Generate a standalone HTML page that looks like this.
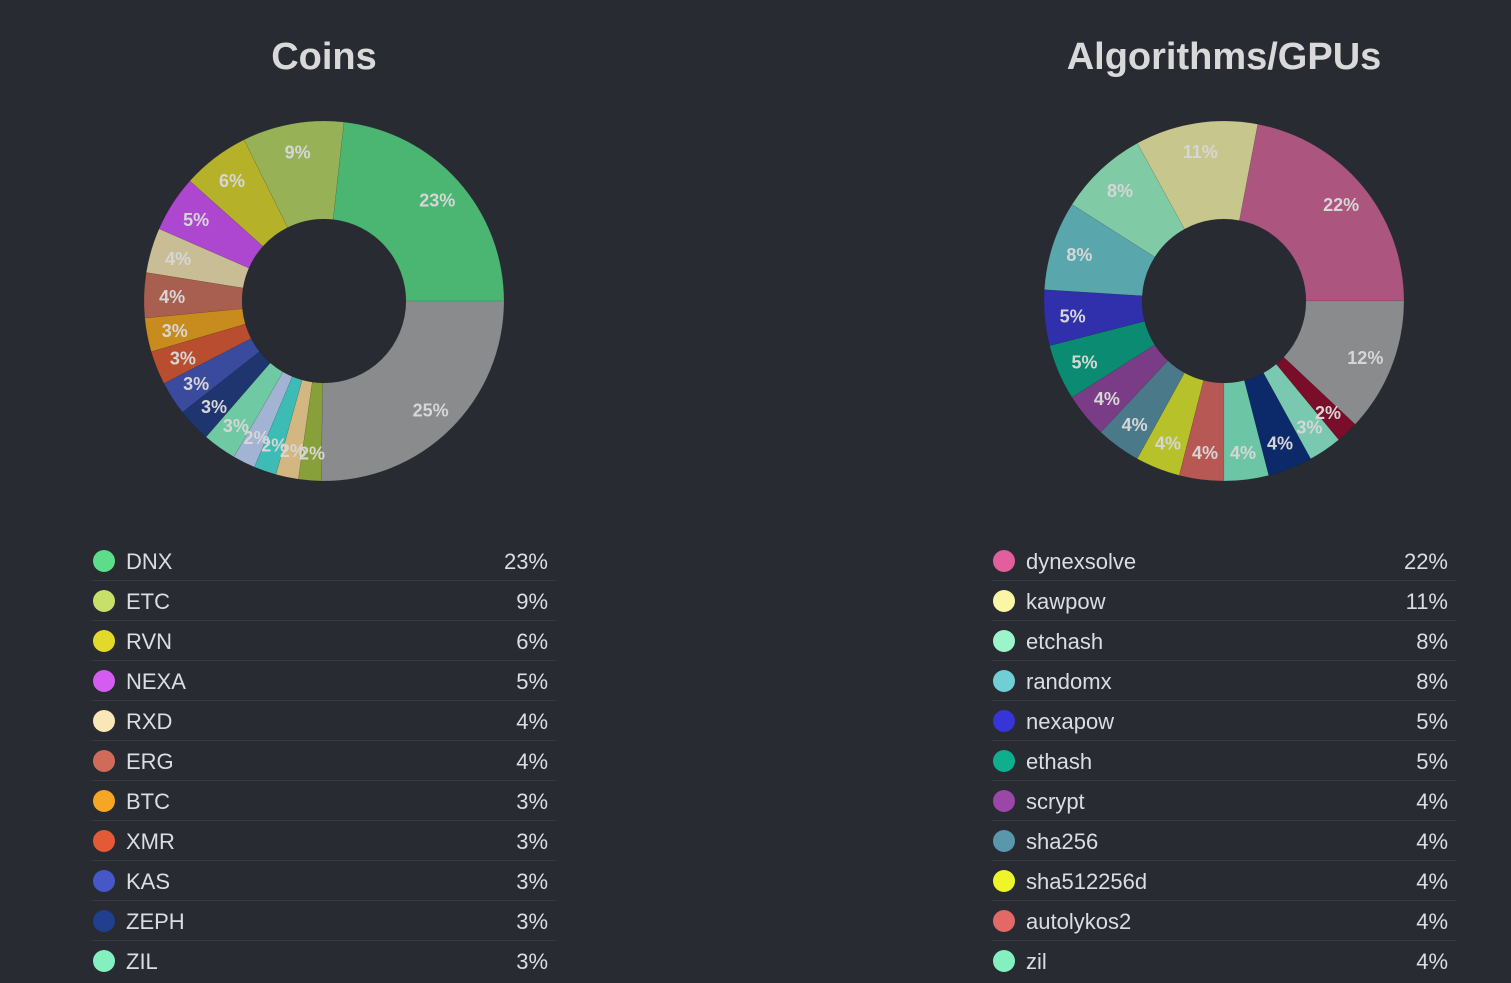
<!DOCTYPE html>
<html><head><meta charset="utf-8">
<style>
html,body{margin:0;padding:0;background:#292b33;width:1511px;height:983px;overflow:hidden;font-family:"Liberation Sans",sans-serif;}
svg{position:absolute;left:0;top:0}
</style></head>
<body>
<svg id="s" width="1511" height="983" xmlns="http://www.w3.org/2000/svg">
<rect width="1511" height="983" fill="#292b33"/>
<text x="324" y="69" text-anchor="middle" font-size="38" font-weight="bold" fill="#d9d9d9" font-family="Liberation Sans, sans-serif">Coins</text>
<text x="1224" y="69" text-anchor="middle" font-size="38" font-weight="bold" fill="#d9d9d9" font-family="Liberation Sans, sans-serif">Algorithms/GPUs</text>
<g id="g"></g>
</svg>
<script>
var NS="http://www.w3.org/2000/svg",g=document.getElementById('g');
function el(t,a,txt){var e=document.createElementNS(NS,t);for(var k in a)e.setAttribute(k,a[k]);if(txt!=null)e.textContent=txt;g.appendChild(e);return e;}
function donut(cx,cy,data){
  var tot=0;data.forEach(d=>tot+=d[0]);
  var a=0,R=180,r=82,labels=[];
  data.forEach(d=>{
    var a0=a,a1=a+d[0]/tot*2*Math.PI;a=a1;
    var p=(ang,rad)=>[cx+rad*Math.cos(ang),cy-rad*Math.sin(ang)];
    var o0=p(a0,R),o1=p(a1,R),i0=p(a0,r),i1=p(a1,r),lg=(a1-a0)>Math.PI?1:0;
    el('path',{d:`M${o0}A${R},${R} 0 ${lg} 0 ${o1}L${i1}A${r},${r} 0 ${lg} 1 ${i0}Z`,fill:d[1],stroke:'rgba(0,0,0,0.15)','stroke-width':0.5});
    var m=(a0+a1)/2,lp=p(m,152);labels.push([lp,d[0]+'%']);
  });
  labels.forEach(l=>el('text',{x:l[0][0],y:l[0][1]+7,'text-anchor':'middle','font-size':18,'font-weight':'bold',fill:'#d6d6d6','font-family':'Liberation Sans, sans-serif'},l[1]));
}
donut(324,301,[[23,'#4bb572'],[9,'#97b256'],[6,'#b5b22a'],[5,'#ad47cf'],[4,'#c9bd95'],[4,'#a85f4f'],[3,'#c88b1e'],[3,'#b84e2f'],[3,'#3a4a9c'],[3,'#1f3570'],[3,'#6fc9a2'],[2,'#a3b3d4'],[2,'#3cbcb4'],[2,'#d2b880'],[2,'#87a03a'],[25,'#8a8b8d']]);
donut(1224,301,[[22,'#ab557f'],[11,'#c7c78d'],[8,'#80cba5'],[8,'#5aa6ad'],[5,'#3030ac'],[5,'#0b8c72'],[4,'#7a3c86'],[4,'#4a7a8a'],[4,'#b7c22a'],[4,'#b85855'],[4,'#6cc6a6'],[4,'#0c2a6a'],[3,'#78c9b0'],[2,'#7a0e2a'],[12,'#8a8b8d']]);
function legend(x0,x1,dx,rows){
  rows.forEach((r,i)=>{
    var y=561+i*40;
    el('circle',{cx:dx,cy:y,r:11,fill:r[1]});
    el('text',{x:dx+22,y:y+8,'font-size':22,fill:'#dcdde2','font-family':'Liberation Sans, sans-serif'},r[0]);
    el('text',{x:x1-8,y:y+8,'font-size':22,fill:'#dcdde2','text-anchor':'end','font-family':'Liberation Sans, sans-serif'},r[2]);
    if(i<rows.length-1)el('rect',{x:x0,y:y+19,width:x1-x0,height:1,fill:'#363943'});
  });
}
legend(92,556,104,[['DNX','#5ddc8a','23%'],['ETC','#c6e06a','9%'],['RVN','#e2d92a','6%'],['NEXA','#d55cf0','5%'],['RXD','#fbe6b8','4%'],['ERG','#d06b5a','4%'],['BTC','#f5a623','3%'],['XMR','#e55a36','3%'],['KAS','#4657c8','3%'],['ZEPH','#213f8e','3%'],['ZIL','#84f0c0','3%']]);
legend(992,1456,1004,[['dynexsolve','#e05f9c','22%'],['kawpow','#fbf6a6','11%'],['etchash','#9cf5c8','8%'],['randomx','#6fcfd4','8%'],['nexapow','#3535d8','5%'],['ethash','#0fae8c','5%'],['scrypt','#9b47a8','4%'],['sha256','#5a97ab','4%'],['sha512256d','#eef52a','4%'],['autolykos2','#e26966','4%'],['zil','#84f0c0','4%']]);
</script>
</body></html>
